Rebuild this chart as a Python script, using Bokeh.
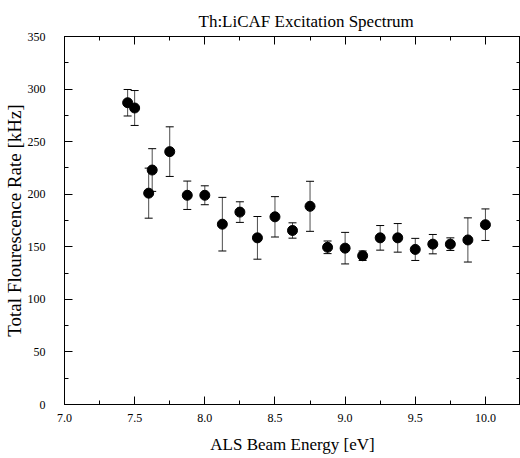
from bokeh.plotting import figure
from bokeh.models import (ColumnDataSource, Whisker, TeeHead, LinearAxis, FixedTicker,
                          NumeralTickFormatter)
from bokeh.embed import file_html
from bokeh.resources import INLINE

# ---- data ----
energy = [7.45, 7.5, 7.6, 7.625, 7.75, 7.875, 8.0, 8.125, 8.25, 8.375, 8.5, 8.625,
          8.75, 8.875, 9.0, 9.125, 9.25, 9.375, 9.5, 9.625, 9.75, 9.875, 10.0]
rate = [287, 282, 201, 223, 240.5, 199, 199, 171.5, 183, 158.5, 178.5, 165.5,
        188.5, 149.5, 148.7, 141.5, 158.5, 158.5, 147.5, 152.5, 152.5, 156.5, 171]
err = [12.6, 16.6, 23.8, 20.3, 23.6, 13.5, 9.0, 25.5, 9.8, 20.3, 19.2, 7.3,
       23.8, 6.0, 15.0, 4.5, 11.7, 13.6, 10.5, 9.2, 6.0, 21.0, 15.0]

x_ticks = [7.0, 7.5, 8.0, 8.5, 9.0, 9.5, 10.0]
x_minor = [7.25, 7.75, 8.25, 8.75, 9.25, 9.75, 10.25]
y_ticks = [0, 50, 100, 150, 200, 250, 300, 350]
y_minor = [25, 75, 125, 175, 225, 275, 325]

title_text = "Th:LiCAF Excitation Spectrum"
x_label = "ALS Beam Energy [eV]"
y_label = "Total Flourescence Rate [kHz]"

FONT = "Liberation Serif"

src = ColumnDataSource(dict(
    x=energy, y=rate,
    upper=[r + e for r, e in zip(rate, err)],
    lower=[r - e for r, e in zip(rate, err)],
))

p = figure(width=520, height=458, x_range=(7.0, 10.25), y_range=(0, 350),
           output_backend="svg", toolbar_location=None,
           x_axis_location=None, y_axis_location=None,
           min_border_left=64, min_border_right=0, min_border_top=36, min_border_bottom=54)
p.background_fill_color = "white"
p.border_fill_color = "white"
p.outline_line_color = "black"
p.outline_line_width = 1
p.xgrid.visible = False
p.ygrid.visible = False

p.title.text = title_text
p.title.text_font = FONT
p.title.text_font_size = "17px"
p.title.text_font_style = "normal"
p.title.text_color = "black"
p.title.align = "left"
p.title.offset = 134
p.title.standoff = 12


def style_axis(ax, ticks, minor, show_labels):
    ax.ticker = FixedTicker(ticks=ticks, minor_ticks=minor)
    ax.major_tick_in = 8
    ax.major_tick_out = 0
    ax.minor_tick_in = 4
    ax.minor_tick_out = 0
    ax.major_tick_line_color = "black"
    ax.minor_tick_line_color = "black"
    ax.axis_line_color = "black"
    ax.major_label_text_font = FONT
    ax.major_label_text_color = "black"
    ax.axis_label_text_color = "black"
    if not show_labels:
        ax.major_label_text_font_size = "0px"
        ax.major_label_standoff = 0
        ax.major_label_text_alpha = 0
    else:
        ax.major_label_text_font_size = "12px"


bottom = LinearAxis(axis_label=x_label)
style_axis(bottom, x_ticks, x_minor, True)
bottom.formatter = NumeralTickFormatter(format="0.0")
bottom.major_label_standoff = 9
bottom.axis_label_text_font = FONT
bottom.axis_label_text_font_size = "17px"
bottom.axis_label_text_font_style = "normal"
bottom.axis_label_standoff = 10
p.add_layout(bottom, "below")

left = LinearAxis(axis_label=y_label)
style_axis(left, y_ticks, y_minor, True)
left.major_label_standoff = 19
left.axis_label_text_font = FONT
left.axis_label_text_font_size = "19px"
left.axis_label_text_font_style = "normal"
left.axis_label_standoff = 0
p.add_layout(left, "left")

top = LinearAxis()
style_axis(top, x_ticks, x_minor, False)
p.add_layout(top, "above")

right = LinearAxis()
style_axis(right, y_ticks, y_minor, False)
p.add_layout(right, "right")

wh = Whisker(source=src, base="x", upper="upper", lower="lower",
             line_color="#4d4d4d", line_width=1,
             upper_head=TeeHead(size=8, line_color="black", line_width=1),
             lower_head=TeeHead(size=8, line_color="black", line_width=1))
p.add_layout(wh)

p.scatter("x", "y", source=src, size=10, marker="circle",
          fill_color="black", line_color="black")

open("out.html", "w").write(file_html(p, INLINE))
